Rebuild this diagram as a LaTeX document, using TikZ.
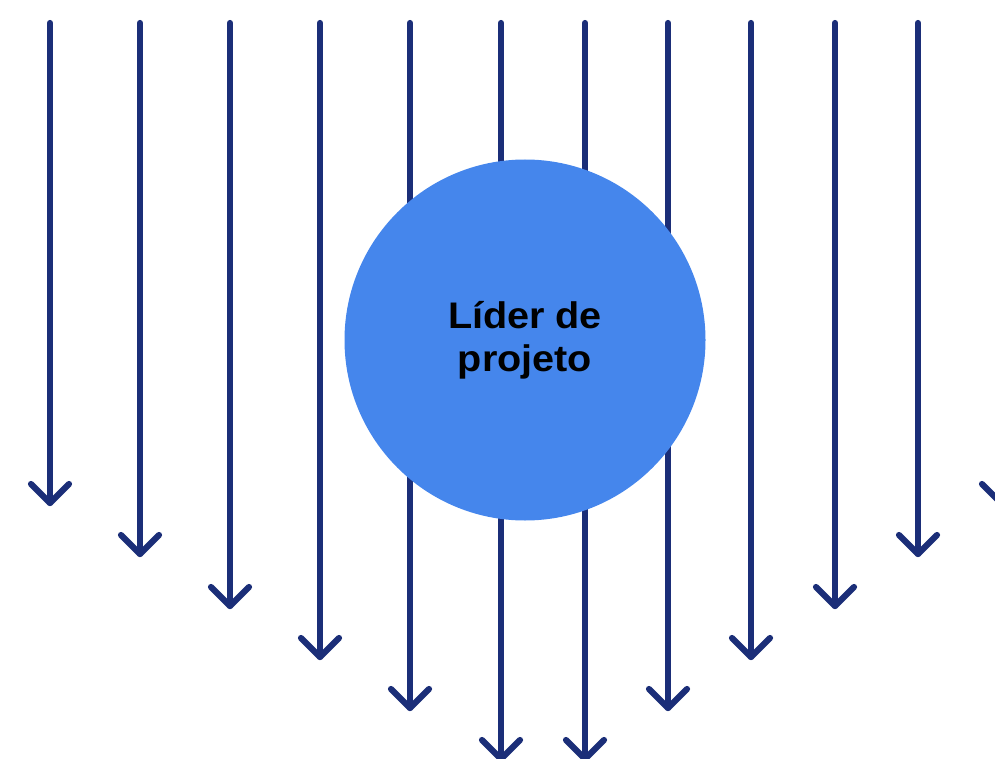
\documentclass[tikz,border=0pt]{standalone}
\usepackage{fontspec}
\setmainfont{Liberation Sans}[FakeStretch=1.07]
\definecolor{navy}{HTML}{1B2E78}
\definecolor{bluefill}{HTML}{4586EC}
\begin{document}
\begin{tikzpicture}[x=1pt,y=-1pt,
  arr/.style={draw=navy,line width=6.2pt,line cap=round,line join=round},
  hub/.style={circle,fill=bluefill,minimum size=361pt,inner sep=0pt,
    font=\fontsize{37}{43}\selectfont\bfseries,align=center,text=black}]
\useasboundingbox (0,0) rectangle (995,759);
\clip (0,0) rectangle (995,759);
\foreach \i/\x/\t in {1/50/503,2/140/554,3/230/606,4/320/657,5/410/708,6/501/759,
                      7/585/759,8/668/708,9/751/657,10/835/606,11/918/554,12/1001/503}{
  \coordinate (top\i) at (\x,23);
  \coordinate (tip\i) at (\x,\t);
  \coordinate (la\i) at (\x-19,\t-19);
  \coordinate (ra\i) at (\x+19,\t-19);
  \draw[arr] (top\i) -- (tip\i);
  \draw[arr] (la\i) -- (tip\i) -- (ra\i);
}
\node[hub] (lead) at (525,340) {Líder de\\projeto};
\end{tikzpicture}
\end{document}
